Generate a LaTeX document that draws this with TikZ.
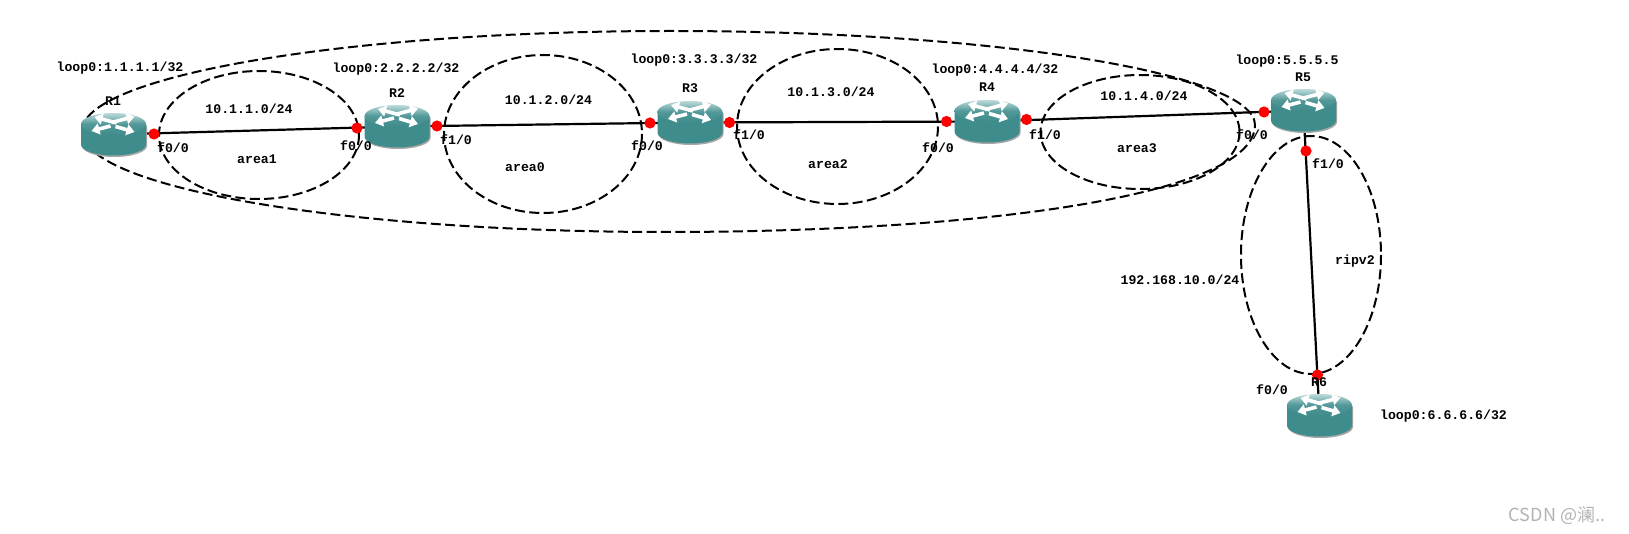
\documentclass[tikz,border=0pt]{standalone}
\usepackage{fontspec}
\setmainfont{Liberation Mono}
\newfontfamily\cjkwm{Noto Sans CJK SC}
\usetikzlibrary{shadings,arrows.meta}
\pgfdeclarelayer{bg}
\pgfsetlayers{bg,main}
\definecolor{teal0}{HTML}{3F8C8C}
\definecolor{teallight}{HTML}{BDDADA}
\tikzset{
  zone/.style={draw=black,line width=1pt,dash pattern=on 5pt off 2.2pt},
  linkline/.style={draw=black,line width=1.1pt},
  port/.style={circle,fill=red,draw=none,minimum size=5.6pt,inner sep=0pt},
  lbl/.style={font=\fontsize{6.6}{7}\selectfont\bfseries,text=black,inner sep=0pt},
  arrowpart/.style={draw=white,line width=1.8pt,-{Triangle[length=4pt,width=5.5pt]}},
  routerbox/.style={rectangle,draw=none,minimum width=34.5pt,minimum height=24pt,inner sep=0pt,
    path picture={
      \begin{scope}[shift={(path picture bounding box.center)}]
        \fill[gray!70] (-31.5,-9) -- (-31.5,11.5) arc[x radius=32.5,y radius=11,start angle=180,end angle=0] -- (33.5,-9) -- cycle;
        \fill[teal0] (-32.5,-10.5) -- (-32.5,10) arc[x radius=32.5,y radius=11,start angle=180,end angle=0] -- (32.5,-10.5) -- cycle;
        \shade[left color=teallight,right color=teal0,middle color=teal0!85!teallight,shading angle=0]
          (0,-10.5) ellipse[x radius=32.5,y radius=11];
        \draw[arrowpart] (3,-11.5) -- (-19,-17.5);
        \draw[arrowpart] (-2,-12) -- (21,-18);
        \draw[arrowpart] (-3,-8.5) -- (-22,-3.5);
        \draw[arrowpart] (2,-8) -- (21,-2.5);
      \end{scope}
    }},
}
\begin{document}
\begin{tikzpicture}[x=0.5pt,y=-0.5pt]
\useasboundingbox (0,0) rectangle (1629,534);
% routers
\node[routerbox] (R1) at (113.5,134.5) {};
\node[routerbox] (R2) at (397,126.5) {};
\node[routerbox] (R3) at (690,122.5) {};
\node[routerbox] (R4) at (987,121.5) {};
\node[routerbox] (R5) at (1303.5,110.5) {};
\node[routerbox] (R6) at (1319.5,415.5) {};
% zones
\begin{pgfonlayer}{bg}
\draw[zone] (82,131) .. controls (82,76) and (346,31) .. (670,31)
  .. controls (992,31) and (1255,73) .. (1255,125)
  .. controls (1255,195) and (985,232) .. (665,232)
  .. controls (345,232) and (82,188) .. (82,131) -- cycle;
\draw[zone] (259,135) ellipse[x radius=100,y radius=64];
\draw[zone] (543,134) ellipse[x radius=99,y radius=79];
\draw[zone] (837.5,126.5) ellipse[x radius=100.5,y radius=77.5];
\draw[zone] (1140,132) ellipse[x radius=99.5,y radius=57];
\draw[zone] (1311,255) ellipse[x radius=70,y radius=119];
\draw[linkline] (R1.center) -- (R2.center);
\draw[linkline] (R2.center) -- (R3.center);
\draw[linkline] (R3.center) -- (R4.center);
\draw[linkline] (R4.center) -- (R5.center);
\draw[linkline] (R5.center) -- (R6.center);
\end{pgfonlayer}
% ports
\node[port] (p1) at (154,134) {};
\node[port] (p2) at (357,128) {};
\node[port] (p3) at (437,126) {};
\node[port] (p4) at (650,123) {};
\node[port] (p5) at (729.5,122.5) {};
\node[port] (p6) at (946.5,121.5) {};
\node[port] (p7) at (1026.5,119.5) {};
\node[port] (p8) at (1264,112) {};
\node[port] (p9) at (1306,151) {};
\node[port] (p10) at (1317.5,375) {};
% labels
\node[lbl] (t1) at (120,68) {loop0:1.1.1.1/32};
\node[lbl] (t2) at (396,69) {loop0:2.2.2.2/32};
\node[lbl] (t3) at (694,60.5) {loop0:3.3.3.3/32};
\node[lbl] (t4) at (995,70.5) {loop0:4.4.4.4/32};
\node[lbl] (t5) at (1287,61) {loop0:5.5.5.5};
\node[lbl] (t6) at (1443.5,416) {loop0:6.6.6.6/32};
\node[lbl] (n1) at (113,101) {R1};
\node[lbl] (n2) at (397,93) {R2};
\node[lbl] (n3) at (690,88) {R3};
\node[lbl] (n4) at (987,87) {R4};
\node[lbl] (n5) at (1303,77) {R5};
\node[lbl] (n6) at (1319,382) {R6};
\node[lbl] (i1) at (173,148) {f0/0};
\node[lbl] (i2) at (356,146) {f0/0};
\node[lbl] (i3) at (456,140) {f1/0};
\node[lbl] (i4) at (647,145.5) {f0/0};
\node[lbl] (i5) at (749,135) {f1/0};
\node[lbl] (i6) at (938,147.5) {f0/0};
\node[lbl] (i7) at (1045,135) {f1/0};
\node[lbl] (i8) at (1252,135) {f0/0};
\node[lbl] (i9) at (1328,164) {f1/0};
\node[lbl] (i10) at (1272,390) {f0/0};
\node[lbl] (s1) at (249,109) {10.1.1.0/24};
\node[lbl] (s2) at (548.5,99.5) {10.1.2.0/24};
\node[lbl] (s3) at (831,91.5) {10.1.3.0/24};
\node[lbl] (s4) at (1144,96) {10.1.4.0/24};
\node[lbl] (s5) at (1180,279.5) {192.168.10.0/24};
\node[lbl] (a1) at (257,159) {area1};
\node[lbl] (a0) at (525,167) {area0};
\node[lbl] (a2) at (828,164) {area2};
\node[lbl] (a3) at (1137,148) {area3};
\node[lbl] (r2) at (1355,261) {ripv2};
\node[inner sep=0pt,text=black!30,font=\cjkwm\fontsize{9}{9}\selectfont] (wm) at (1557,515.5) {CSDN @澜..};
\end{tikzpicture}
\end{document}
